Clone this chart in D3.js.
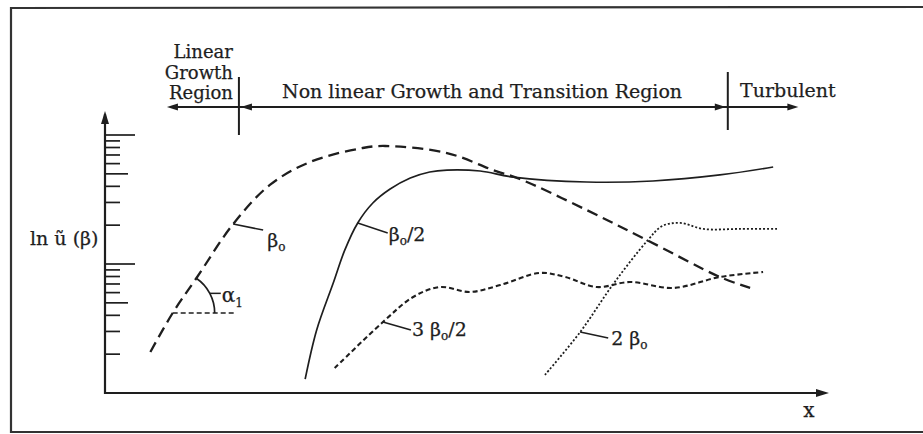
<!DOCTYPE html>
<html>
<head>
<meta charset="utf-8">
<script src="https://cdn.jsdelivr.net/npm/d3@7"></script>
<style>
  body { margin: 0; background: #fff; }
  text { font-family: "DejaVu Serif", "Liberation Serif", serif; fill: #1e1e1e; stroke: #1e1e1e; stroke-width: 0.25; }
</style>
</head>
<body>
<div id="chart"></div>
<script>
let w = 923;
let h = 434;

// curves, x in arbitrary streamwise units (0-100), y = u amplitude (log axis)
let beta0X = [6.3, 9.4, 12.8, 17.8, 22.9, 28.5, 35.8, 38.9, 47.5, 53.9, 57.6, 66.9, 75.3, 85.4, 89.6];
let beta0Y = [2.08, 4.17, 7.93, 20.4, 41.0, 61.8, 79.3, 82.2, 72.5, 53.5, 45.6, 26.2, 15.3, 7.93, 6.52];

let halfX = [27.8, 29.4, 31.7, 33.3, 35.1, 37.2, 39.6, 42.4, 45.1, 47.5, 52.1, 56.7, 66.9, 76.1, 85.4, 92.8];
let halfY = [1.28, 3.08, 7.12, 12.8, 20.8, 29.7, 38.1, 46.4, 51.7, 53.5, 52.6, 47.2, 43.2, 44.0, 49.0, 56.5];

let threeHalfX = [31.9, 38.6, 42.8, 46.5, 50.7, 54.9, 60.4, 63.9, 68.3, 72.9, 78.9, 85.4, 91.4];
let threeHalfY = [1.56, 3.55, 5.55, 6.63, 6.07, 6.87, 8.52, 7.93, 6.63, 7.25, 6.52, 7.93, 8.67];

let twoX = [61.1, 66.0, 70.6, 75.3, 77.4, 79.9, 83.1, 88.2, 93.5];
let twoY = [1.38, 2.97, 7.00, 15.1, 19.7, 20.8, 18.7, 18.7, 18.7];

// region boundaries along x
let regionEdges = [8.6, 18.6, 86.5, 96.3];
let regionNames = ["Non linear Growth and Transition Region", "Turbulent"];
let linearLines = ["Linear", "Growth", "Region"];

let yTicks = [2, 3, 4, 5, 6, 7, 8, 9, 10, 20, 30, 40, 50, 60, 70, 80, 90, 100];

let svg = d3.select("#chart")
  .append("svg")
  .attr("width", w)
  .attr("height", h);

let x = d3.scaleLinear().domain([0, 100]).range([105, 825]);
let y = d3.scaleLog().domain([1, 100]).range([393, 135]);

let ink = "#1e1e1e";

// frame (open on the right like the scan)
svg.append("path")
  .attr("d", "M923,7 L11,8 L11,432 L923,432")
  .attr("fill", "none")
  .attr("stroke", "#333")
  .attr("stroke-width", 2.2);

function arrowHead(tipX, tipY, dir, len, half) {
  // dir: "left","right","up"
  let pts;
  if (dir == "right") pts = [[tipX, tipY], [tipX - len, tipY - half], [tipX - len, tipY + half]];
  if (dir == "left") pts = [[tipX, tipY], [tipX + len, tipY - half], [tipX + len, tipY + half]];
  if (dir == "up") pts = [[tipX, tipY], [tipX - half, tipY + len], [tipX + half, tipY + len]];
  svg.append("polygon")
    .attr("points", pts.map(p => p.join(",")).join(" "))
    .attr("fill", ink);
}

// axes
svg.append("line")
  .attr("x1", x(0)).attr("y1", y(1) + 1)
  .attr("x2", x(0)).attr("y2", 114)
  .attr("stroke", ink).attr("stroke-width", 2.2);
arrowHead(x(0), 111, "up", 13, 4);

svg.append("line")
  .attr("x1", x(0) - 1).attr("y1", y(1))
  .attr("x2", 822).attr("y2", y(1))
  .attr("stroke", ink).attr("stroke-width", 2.2);
arrowHead(829, y(1), "right", 13, 4);

svg.selectAll(".ytick").data(yTicks).enter()
  .append("line")
  .attr("class", "ytick")
  .attr("x1", x(0))
  .attr("x2", function(d){
    let lead = d / Math.pow(10, Math.floor(Math.log10(d) + 1e-9));
    if (Math.abs(lead - 1) < 1e-6) return x(0) + 30;
    if (Math.abs(lead - 5) < 1e-6) return x(0) + 23;
    return x(0) + 15;
  })
  .attr("y1", d => y(d))
  .attr("y2", d => y(d))
  .attr("stroke", ink)
  .attr("stroke-width", 1.7);

svg.append("text")
  .attr("x", 30).attr("y", 245)
  .attr("font-size", 19)
  .text("ln ũ (β)");

svg.append("text")
  .attr("x", 809).attr("y", 417)
  .attr("text-anchor", "middle")
  .attr("font-size", 20)
  .text("x");

// region annotation on top
let regY = 107;
svg.append("line")
  .attr("x1", x(regionEdges[0]) + 4).attr("y1", regY)
  .attr("x2", x(regionEdges[3]) - 4).attr("y2", regY)
  .attr("stroke", ink).attr("stroke-width", 1.8);
arrowHead(x(regionEdges[0]), regY, "left", 11, 3.5);
arrowHead(x(regionEdges[1]) + 2, regY, "left", 11, 3.5);
arrowHead(x(regionEdges[2]) - 2, regY, "right", 11, 3.5);
arrowHead(x(regionEdges[3]), regY, "right", 11, 3.5);

svg.append("line")
  .attr("x1", x(regionEdges[1])).attr("y1", 77)
  .attr("x2", x(regionEdges[1])).attr("y2", 135)
  .attr("stroke", ink).attr("stroke-width", 2);
svg.append("line")
  .attr("x1", x(regionEdges[2])).attr("y1", 72)
  .attr("x2", x(regionEdges[2])).attr("y2", 130)
  .attr("stroke", ink).attr("stroke-width", 2);

svg.selectAll(".lin").data(linearLines).enter()
  .append("text")
  .attr("class", "lin")
  .attr("x", x(regionEdges[1]) - 6)
  .attr("y", (d, i) => 58 + i * 20.5)
  .attr("text-anchor", "end")
  .attr("font-size", 18)
  .text(d => d);

svg.append("text")
  .attr("x", 282).attr("y", 98)
  .attr("font-size", 19)
  .text(regionNames[0]);
svg.append("text")
  .attr("x", 740).attr("y", 97)
  .attr("font-size", 19)
  .text(regionNames[1]);

// curves
let line = d3.line()
  .x(d => x(d[0]))
  .y(d => y(d[1]))
  .curve(d3.curveCatmullRom.alpha(0.5));

let series = [
  {name: "b0", xs: beta0X, ys: beta0Y, dash: "11,6", width: 2.3},
  {name: "half", xs: halfX, ys: halfY, dash: null, width: 1.7},
  {name: "threeHalf", xs: threeHalfX, ys: threeHalfY, dash: "5,3", width: 2.1},
  {name: "two", xs: twoX, ys: twoY, dash: "2,2", width: 1.8}
];

series.forEach(s=>{
  let pts = s.xs.map((v, i) => [v, s.ys[i]]);
  svg.append("path")
    .attr("d", line(pts))
    .attr("fill", "none")
    .attr("stroke", ink)
    .attr("stroke-width", s.width)
    .attr("stroke-dasharray", s.dash);
})

// curve labels: anchor on the curve, leader line, text
let labels = [
  {xs: beta0X, ys: beta0Y, i: 3, dx: 30, dy: 6, tx: 34, ty: 23, pre: "β", sub: "o", post: ""},
  {xs: halfX, ys: halfY, i: 4, dx: 30, dy: 10, tx: 31, ty: 18, pre: "β", sub: "o", post: "/2"},
  {xs: threeHalfX, ys: threeHalfY, i: 1, dx: 28, dy: 8, tx: 29, ty: 14, pre: "3 β", sub: "o", post: "/2"},
  {xs: twoX, ys: twoY, i: 1, dx: 28, dy: 6, tx: 31, ty: 13, pre: "2 β", sub: "o", post: ""}
];

labels.forEach(l=>{
  let ax = x(l.xs[l.i]);
  let ay = y(l.ys[l.i]);
  svg.append("line")
    .attr("x1", ax).attr("y1", ay)
    .attr("x2", ax + l.dx).attr("y2", ay + l.dy)
    .attr("stroke", ink).attr("stroke-width", 1.5);
  let t = svg.append("text")
    .attr("x", ax + l.tx).attr("y", ay + l.ty)
    .attr("font-size", 19);
  t.append("tspan").text(l.pre);
  t.append("tspan").attr("font-size", 12).attr("dy", 4).text(l.sub);
  t.append("tspan").attr("dy", -4).text(l.post);
})

// slope angle alpha_1 at the start of the beta0 curve
let vx = x(beta0X[1]);
let vy = y(beta0Y[1]);
let r = 42;
svg.append("line")
  .attr("x1", vx).attr("y1", vy)
  .attr("x2", vx + 64).attr("y2", vy)
  .attr("stroke", ink).attr("stroke-width", 1.7)
  .attr("stroke-dasharray", "5,3");
let ang = Math.atan2(y(beta0Y[2]) - vy, x(beta0X[2]) - vx);
let arc = d3.path();
arc.arc(vx, vy, r, ang, 0);
svg.append("path")
  .attr("d", arc.toString())
  .attr("fill", "none")
  .attr("stroke", ink)
  .attr("stroke-width", 1.7);
svg.append("line")
  .attr("x1", vx + r * Math.cos(ang / 2)).attr("y1", vy + r * Math.sin(ang / 2))
  .attr("x2", vx + r * Math.cos(ang / 2) + 11).attr("y2", vy + r * Math.sin(ang / 2))
  .attr("stroke", ink).attr("stroke-width", 1.5);
let at = svg.append("text")
  .attr("x", vx + r * Math.cos(ang / 2) + 12)
  .attr("y", vy + r * Math.sin(ang / 2) + 9)
  .attr("font-size", 20);
at.append("tspan").text("α");
at.append("tspan").attr("font-size", 12).attr("dy", 5).text("1");
</script>
</body>
</html>
